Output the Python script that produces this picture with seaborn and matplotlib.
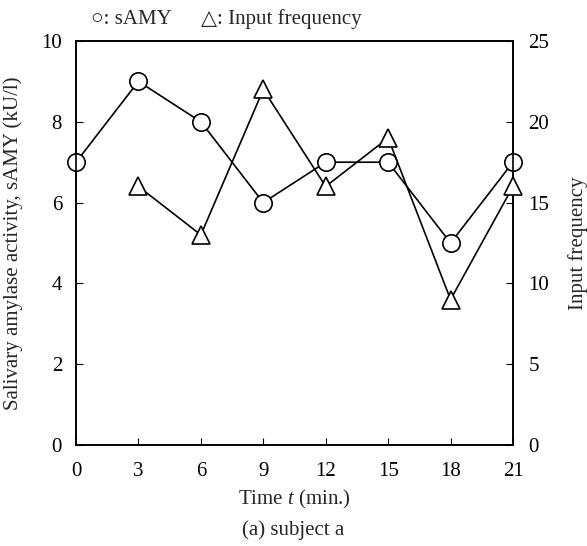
import matplotlib
matplotlib.use("Agg")
import matplotlib.pyplot as plt
import seaborn as sns
import pandas as pd

time_samy = [0, 3, 6, 9, 12, 15, 18, 21]
samy = [7, 9, 8, 6, 7, 7, 5, 7]
time_freq = [3, 6, 9, 12, 15, 18, 21]
freq = [16, 13, 22, 16, 19, 9, 16]
x_ticks = [0, 3, 6, 9, 12, 15, 18, 21]
left_ticks = [0, 2, 4, 6, 8, 10]
right_ticks = [0, 5, 10, 15, 20, 25]

sns.set_style("white")
plt.rcParams['font.family'] = ['Liberation Serif', 'DejaVu Sans']
plt.rcParams['mathtext.fontset'] = 'custom'
plt.rcParams['mathtext.it'] = 'Liberation Serif:italic'
plt.rcParams['mathtext.rm'] = 'Liberation Serif'
fs = 15

W, H = 587, 546
fig = plt.figure(figsize=(W / 100, H / 100), dpi=100)
x0, x1, y0, y1 = 76, 513, 41, 445
ax = fig.add_axes([x0 / W, 1 - y1 / H, (x1 - x0) / W, (y1 - y0) / H])
ax2 = ax.twinx()

df1 = pd.DataFrame({"t": time_samy, "v": samy})
df2 = pd.DataFrame({"t": time_freq, "v": freq})

sns.lineplot(data=df1, x="t", y="v", ax=ax, color="black", lw=1.2,
             marker="o", markersize=12.5, markerfacecolor="white",
             markeredgecolor="black", markeredgewidth=1.2, clip_on=False, zorder=3)
sns.lineplot(data=df2, x="t", y="v", ax=ax2, color="black", lw=1.2,
             marker="^", markersize=13.5, markerfacecolor="white",
             markeredgecolor="black", markeredgewidth=1.2, clip_on=False, zorder=3)

ax.set_xlim(0, 21)
ax.set_ylim(0, 10)
ax2.set_ylim(0, 25)
ax.set_xticks(x_ticks)
ax.set_yticks(left_ticks)
ax2.set_yticks(right_ticks)
ax.set_xticklabels([str(t) for t in x_ticks], fontsize=fs)
ax.set_yticklabels([str(t) for t in left_ticks], fontsize=fs)
ax2.set_yticklabels([str(t) for t in right_ticks], fontsize=fs)

for a in (ax, ax2):
    for s in a.spines.values():
        s.set_color("black")
        s.set_linewidth(1.2)
ax.tick_params(axis="both", direction="in", length=5, width=0.8, colors="black",
               bottom=True, left=True, top=False, right=False)
ax.tick_params(axis="y", pad=10)
ax.tick_params(axis="x", pad=12)
ax2.tick_params(axis="y", direction="in", length=5, width=0.8, colors="black",
                right=True, left=False, pad=11)

ax.set_xlabel("Time $t$ (min.)", fontsize=fs)
ax.set_ylabel("Salivary amylase activity, sAMY (kU/l)", fontsize=fs)
ax2.set_ylabel("Input frequency", fontsize=fs, rotation=90)
ax.xaxis.set_label_coords(0.5, (y1 - 499) / (y1 - y0))
ax.xaxis.label.set_va("center")
ax.yaxis.set_label_coords((13 - x0) / (x1 - x0), 0.5)
ax.yaxis.label.set_va("center")
ax2.yaxis.set_label_coords((578 - x0) / (x1 - x0), 0.5)
ax2.yaxis.label.set_va("center")

fig.text(0.5, 1 - 530 / H, "(a) subject a", ha="center", va="center", fontsize=fs)
ly = 1 - 19 / H
fig.text(91 / W, ly, "\u25cb: sAMY", ha="left", va="center", fontsize=fs)
fig.text(201 / W, ly, "\u25b3: Input frequency", ha="left", va="center", fontsize=fs)

fig.savefig("out.png", dpi=100)
